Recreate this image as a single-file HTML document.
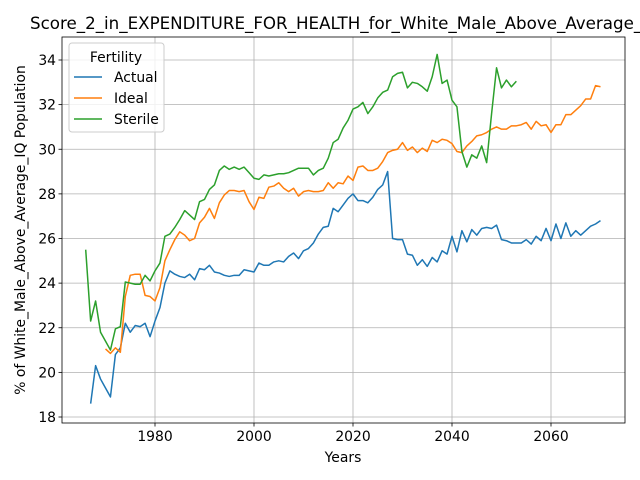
<!DOCTYPE html>
<html><head><meta charset="utf-8"><style>
body{margin:0;background:#fff;}
svg{display:block;font-family:"DejaVu Sans","Liberation Sans",sans-serif;}
</style></head><body>
<svg id="chart" width="640" height="480">
<text x="30" y="29" font-size="16.7" fill="#000">Score_2_in_EXPENDITURE_FOR_HEALTH_for_White_Male_Above_Average_IQ_Population</text>
<g id="grid"></g><g id="series"></g><g id="axes"></g>
<text x="343" y="462" font-size="13.9" text-anchor="middle">Years</text>
<text transform="translate(25,230) rotate(-90)" font-size="13.9" text-anchor="middle">% of White_Male_Above_Average_IQ Population</text>
<g>
<rect x="69" y="43" width="95" height="89" rx="3" fill="#fff" fill-opacity="0.8" stroke="#ccc"/>
<text x="116" y="62" font-size="13.9" text-anchor="middle">Fertility</text>
<line x1="74" x2="102" y1="77" y2="77" stroke="#1f77b4" stroke-width="1.5"/><text x="114" y="82" font-size="13.9">Actual</text>
<line x1="74" x2="102" y1="98" y2="98" stroke="#ff7f0e" stroke-width="1.5"/><text x="114" y="103" font-size="13.9">Ideal</text>
<line x1="74" x2="102" y1="119" y2="119" stroke="#2ca02c" stroke-width="1.5"/><text x="114" y="124" font-size="13.9">Sterile</text>
</g>
</svg>
<script>
const actualStart = 1967;
const actualValues = [18.6,20.3,19.7,19.3,18.9,20.8,21.1,22.2,21.8,22.1,22.05,22.2,21.6,22.3,22.9,24.0,24.55,24.4,24.3,24.25,24.4,24.15,24.65,24.6,24.8,24.5,24.45,24.35,24.3,24.35,24.35,24.6,24.55,24.5,24.9,24.8,24.8,24.95,25.0,24.95,25.2,25.35,25.1,25.45,25.55,25.8,26.2,26.5,26.55,27.35,27.2,27.5,27.8,28.0,27.7,27.7,27.6,27.85,28.2,28.4,29.0,26.0,25.95,25.95,25.3,25.25,24.8,25.05,24.75,25.15,24.95,25.45,25.3,26.1,25.4,26.35,25.85,26.4,26.15,26.45,26.5,26.45,26.6,25.95,25.9,25.8,25.8,25.8,25.95,25.75,26.1,25.9,26.45,25.9,26.65,26.0,26.7,26.1,26.35,26.15,26.35,26.55,26.65,26.8];
const idealStart = 1970;
const idealValues = [21.05,20.85,21.1,20.9,23.4,24.35,24.4,24.4,23.45,23.4,23.2,23.8,25.0,25.5,25.95,26.3,26.15,25.9,26.0,26.7,26.95,27.35,26.9,27.6,27.95,28.15,28.15,28.1,28.15,27.65,27.3,27.85,27.8,28.3,28.35,28.5,28.25,28.1,28.25,27.9,28.1,28.15,28.1,28.1,28.15,28.5,28.25,28.5,28.45,28.8,28.6,29.2,29.25,29.05,29.05,29.15,29.45,29.85,29.95,30.0,30.3,29.95,30.1,29.85,30.05,29.9,30.4,30.3,30.45,30.4,30.25,29.9,29.85,30.15,30.35,30.6,30.65,30.75,30.9,31.0,30.9,30.9,31.05,31.05,31.1,31.2,30.9,31.25,31.05,31.1,30.75,31.1,31.1,31.55,31.55,31.75,31.95,32.25,32.25,32.85,32.8];
const sterileStart = 1966;
const sterileValues = [25.5,22.3,23.2,21.8,21.4,21.0,21.95,22.05,24.05,24.0,23.95,23.95,24.35,24.1,24.55,24.9,26.1,26.2,26.5,26.85,27.25,27.05,26.85,27.65,27.75,28.2,28.4,29.05,29.25,29.1,29.2,29.1,29.2,28.95,28.7,28.65,28.85,28.8,28.85,28.9,28.9,28.95,29.05,29.15,29.15,29.15,28.85,29.05,29.15,29.6,30.3,30.45,30.95,31.3,31.8,31.9,32.1,31.6,31.9,32.3,32.55,32.65,33.25,33.4,33.45,32.75,33.0,32.95,32.8,32.6,33.25,34.25,32.95,33.1,32.2,31.9,29.9,29.2,29.75,29.6,30.15,29.4,31.6,33.65,32.75,33.1,32.8,33.05];
const xTicks = [1980,2000,2020,2040,2060];
const yTicks = [18,20,22,24,26,28,30,32,34];

const L=62,R=625,T=37,B=423;
const xs=y=>155+(y-1980)*4.95;
const ys=v=>417-(v-18)*22.3125;
const NS='http://www.w3.org/2000/svg';
function mk(tag,parent,attrs){const e=document.createElementNS(NS,tag);for(const k in attrs)e.setAttribute(k,attrs[k]);parent.appendChild(e);return e;}
const grid=document.getElementById('grid'),axes=document.getElementById('axes'),series=document.getElementById('series');
xTicks.forEach(t=>{
  const g=mk('line',grid,{x1:xs(t),x2:xs(t),y1:T,y2:B,stroke:'#b0b0b0','stroke-width':0.8});
  
  
  mk('line',axes,{x1:xs(t),x2:xs(t),y1:B,y2:B+3.5,stroke:'#000','stroke-width':0.8});
  const tx=mk('text',axes,{x:xs(t),y:B+18,'font-size':13.9,'text-anchor':'middle'});tx.textContent=t;
  
  
});
yTicks.forEach(t=>{
  const g=mk('line',grid,{x1:L,x2:R,y1:ys(t),y2:ys(t),stroke:'#b0b0b0','stroke-width':0.8});
  
  
  mk('line',axes,{x1:L-3.5,x2:L,y1:ys(t),y2:ys(t),stroke:'#000','stroke-width':0.8});
  const tx=mk('text',axes,{x:L-6,y:ys(t)+5,'font-size':13.9,'text-anchor':'end'});tx.textContent=t;
  
  
});
const frame=mk('rect',axes,{x:L,y:T,width:R-L,height:B-T,fill:'none',stroke:'#000','stroke-width':0.8});


function line(start,vals,color,name){
  const d=vals.map((v,i)=>(i?'L':'M')+xs(start+i).toFixed(2)+','+ys(v).toFixed(2)).join('');
  const p=mk('path',series,{d:d,fill:'none',stroke:color,'stroke-width':1.5,'stroke-linejoin':'round'});
  
  
}
line(actualStart,actualValues,'#1f77b4','actual-line');
line(idealStart,idealValues,'#ff7f0e','ideal-line');
line(sterileStart,sterileValues,'#2ca02c','sterile-line');
</script>
</body></html>
